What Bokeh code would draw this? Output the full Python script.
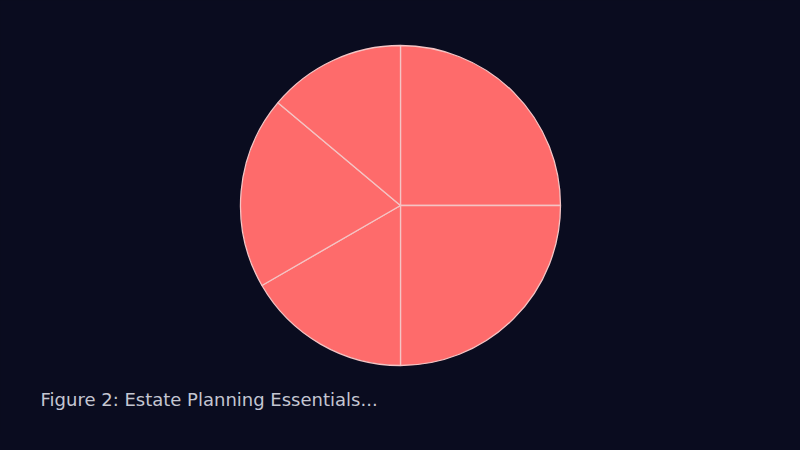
from bokeh.plotting import figure
from bokeh.models import Range1d, ColumnDataSource, Label
from bokeh.embed import file_html
from bokeh.resources import INLINE
import math

# Data (proportions of the pie, clockwise from top)
categories = ["Will", "Trust", "Power of Attorney", "Healthcare Directive", "Beneficiaries"]
values = [18, 18, 12, 14, 10]
caption = "Figure 2: Estate Planning Essentials..."

W, H = 784, 434
BG = "#0a0c1f"

total = float(sum(values))
starts, ends = [], []
ang = math.pi / 2
for v in values:
    a2 = ang - v / total * 2 * math.pi
    starts.append(a2)
    ends.append(ang)
    ang = a2

src = ColumnDataSource(dict(cat=categories, val=values, start=starts, end=ends))

p = figure(width=W, height=H, output_backend="svg", toolbar_location=None,
           x_range=Range1d(0, W), y_range=Range1d(0, H), min_border=0,
           background_fill_color=BG, border_fill_color=BG, outline_line_color=None)
p.axis.visible = False
p.grid.visible = False

cx, cy = 400, H - 205
p.wedge(x=cx, y=cy, radius=160, radius_units="screen", start_angle="start", end_angle="end",
        source=src, fill_color="#fe6b6b", line_color="#f4c4c4", line_width=1.3)

p.add_layout(Label(x=40, y=H - 399, text=caption, text_font="DejaVu Sans", text_font_size="18px",
                   text_color="#c4c6d2", text_baseline="alphabetic"))

html = file_html(p, INLINE)
html = html.replace("<head>", "<head><style>html,body{background:%s;}</style>" % BG, 1)
open("out.html", "w").write(html)
